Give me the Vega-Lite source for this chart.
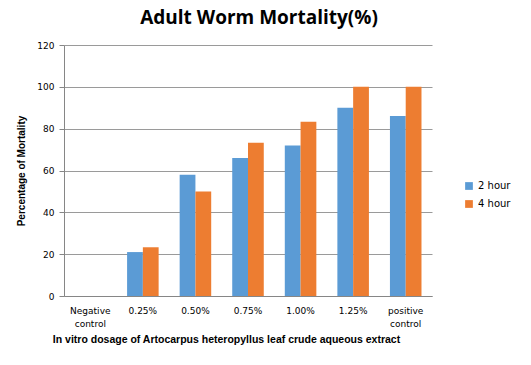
{
  "$schema": "https://vega.github.io/schema/vega-lite/v6.json",
  "autosize": {"type": "none"},
  "width": 368,
  "height": 251,
  "padding": {"left": 64, "top": 45, "right": 99, "bottom": 69},
  "background": "white",
  "title": {
    "text": "Adult Worm Mortality(%)",
    "font": "Open Sans",
    "fontSize": 19,
    "fontWeight": "bold",
    "color": "#000000",
    "anchor": "middle",
    "offset": 13,
    "dx": 11
  },
  "data": {
    "values": [
      {"dose": "Negative control", "time": "2 hour", "mortality": 0},
      {"dose": "Negative control", "time": "4 hour", "mortality": 0},
      {"dose": "0.25%", "time": "2 hour", "mortality": 21},
      {"dose": "0.25%", "time": "4 hour", "mortality": 23.3},
      {"dose": "0.50%", "time": "2 hour", "mortality": 58},
      {"dose": "0.50%", "time": "4 hour", "mortality": 50},
      {"dose": "0.75%", "time": "2 hour", "mortality": 66},
      {"dose": "0.75%", "time": "4 hour", "mortality": 73.3},
      {"dose": "1.00%", "time": "2 hour", "mortality": 72},
      {"dose": "1.00%", "time": "4 hour", "mortality": 83.3},
      {"dose": "1.25%", "time": "2 hour", "mortality": 90},
      {"dose": "1.25%", "time": "4 hour", "mortality": 100},
      {"dose": "positive control", "time": "2 hour", "mortality": 86},
      {"dose": "positive control", "time": "4 hour", "mortality": 100}
    ]
  },
  "mark": {"type": "bar"},
  "encoding": {
    "x": {
      "field": "dose",
      "type": "nominal",
      "sort": null,
      "scale": {"paddingInner": 0.4, "paddingOuter": 0.2},
      "axis": {
        "title": "In vitro dosage of  Artocarpus heteropyllus leaf crude aqueous extract",
        "titleFont": "Liberation Sans",
        "titleFontSize": 10.5,
        "titleFontWeight": "bold",
        "titleColor": "#000000",
        "titlePadding": 6,
        "titleX": 162,
        "titleAnchor": "middle",
        "labelAngle": 0,
        "labelExpr": "split(datum.label, ' ')",
        "labelFont": "DejaVu Sans",
        "labelFontSize": 9,
        "labelColor": "#000000",
        "labelPadding": 10,
        "labelLineHeight": 13,
        "ticks": false,
        "domainColor": "#868686",
        "grid": false
      }
    },
    "xOffset": {"field": "time", "type": "nominal", "scale": {"paddingInner": 0}},
    "y": {
      "field": "mortality",
      "type": "quantitative",
      "scale": {"domain": [0, 120]},
      "axis": {
        "title": "Percentage of Mortality",
        "titleFont": "Liberation Sans",
        "titleFontSize": 10,
        "titleFontWeight": "bold",
        "titleColor": "#000000",
        "titlePadding": 10,
        "values": [0, 20, 40, 60, 80, 100, 120],
        "labelFont": "DejaVu Sans",
        "labelFontSize": 9,
        "labelColor": "#000000",
        "labelPadding": 5,
        "tickSize": 5,
        "tickColor": "#868686",
        "domainColor": "#868686",
        "gridColor": "#9a9a9a",
        "grid": true
      }
    },
    "color": {
      "field": "time",
      "type": "nominal",
      "scale": {"domain": ["2 hour", "4 hour"], "range": ["#5B9BD5", "#ED7D31"]},
      "legend": {
        "title": null,
        "orient": "none",
        "legendX": 400,
        "legendY": 136,
        "symbolType": "square",
        "symbolSize": 60,
        "labelFont": "DejaVu Sans",
        "labelFontSize": 10,
        "labelColor": "#000000",
        "rowPadding": 8
      }
    }
  },
  "config": {"view": {"stroke": null}}
}
